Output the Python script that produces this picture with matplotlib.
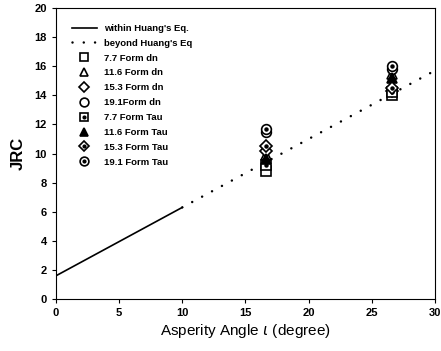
import numpy as np
import matplotlib
matplotlib.use("Agg")
import matplotlib.pyplot as plt

plt.rcParams['font.family'] = ['Liberation Sans', 'DejaVu Sans']

# Huang's equation line
within_x = [0, 10]
beyond_x = [10, 30]
intercept = 1.6
slope = 0.47

# test results: JRC at each asperity angle for each series
series_names = ["7.7 Form dn", "11.6 Form dn", "15.3 Form dn", "19.1Form dn",
                "7.7 Form Tau", "11.6 Form Tau", "15.3 Form Tau", "19.1 Form Tau"]
angles = [16.6, 26.6]
jrc_vals = [
    [8.8, 14.0],
    [9.9, 15.5],
    [10.2, 14.3],
    [11.5, 15.8],
    [9.2, 14.2],
    [9.6, 15.2],
    [10.5, 14.5],
    [11.7, 16.0],
]
markers = ['s', '^', 'D', 'o', 's', '^', 'D', 'o']
filled = [False, False, False, False, 'dot', True, 'dot', 'dot']

fig = plt.figure(figsize=(4.41, 3.51), dpi=100)
ax = fig.add_axes([0.127, 0.148, 0.859, 0.829])

wx = np.array(within_x)
bx = np.array(beyond_x)
h_in, = ax.plot(wx, intercept + slope * wx, color='black', lw=1.2)
h_out, = ax.plot(bx, intercept + slope * bx, color='black', lw=1.8,
                 linestyle=(0, (0.01, 4.5)), dash_capstyle='round')

handles = [h_in, h_out]
labels = ["within Huang's Eq.", "beyond Huang's Eq"]
for name, vals, m, f in zip(series_names, jrc_vals, markers, filled):
    ms = 7 if m != 'D' else 6
    face = 'black' if f is True else 'white'
    h, = ax.plot(angles, vals, linestyle='none', marker=m, ms=ms, mfc=face,
                 mec='black', mew=1.2)
    if f == 'dot':
        d, = ax.plot(angles, vals, linestyle='none', marker='o', ms=2.2,
                     color='black')
        handles.append((h, d))
    else:
        handles.append(h)
    labels.append(name)

ax.set_xlim(0, 30)
ax.set_ylim(0, 20)
ax.set_xticks(range(0, 31, 5))
ax.set_yticks(range(0, 21, 2))
ax.tick_params(direction='out', length=3, labelsize=8)
for lab in ax.get_xticklabels() + ax.get_yticklabels():
    lab.set_fontweight('bold')
ax.set_xlabel(r"Asperity Angle $\iota$ (degree)", fontsize=11, labelpad=3)
ax.set_ylabel("JRC", fontsize=12, fontweight='bold', labelpad=6)

leg = ax.legend(handles, labels, loc='upper left', bbox_to_anchor=(0.02, 0.975),
                frameon=False, fontsize=6.8, handlelength=2.6, labelspacing=0.62,
                handletextpad=0.8, markerscale=0.9)
for t in leg.get_texts():
    t.set_fontweight('bold')

fig.savefig("out.png", dpi=100)
